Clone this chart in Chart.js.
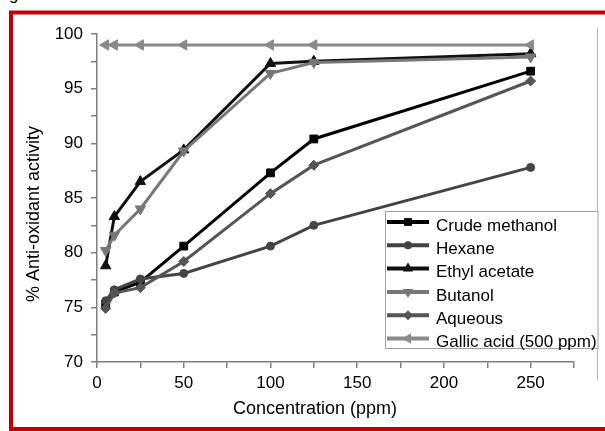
<!DOCTYPE html>
<html>
<head>
<meta charset="utf-8">
<script src="https://cdn.jsdelivr.net/npm/chart.js@4.4.0/dist/chart.umd.min.js"></script>
<style>
  html, body { margin: 0; padding: 0; background: #fff; }
  #myChart { display: block; }
</style>
</head>
<body>
<canvas id="myChart" width="605" height="431"></canvas>
<script>
// values (x = concentration in ppm)
const concentration = [5, 10, 25, 50, 100, 125, 250];
const crudeMethanol = [75.3, 76.4, 77.3, 80.6, 87.3, 90.4, 96.6];
const hexane        = [75.6, 76.6, 77.6, 78.1, 80.6, 82.5, 87.8];
const ethylAcetate  = [78.8, 83.3, 86.5, 89.4, 97.3, 97.5, 98.2];
const butanol       = [80.2, 81.6, 84.0, 89.3, 96.4, 97.4, 97.9];
const aqueous       = [74.9, 76.3, 76.8, 79.2, 85.4, 88.0, 95.7];
const gallicAcid    = [99, 99, 99, 99, 99, 99, 99];

const seriesNames = ['Crude methanol', 'Hexane', 'Ethyl acetate', 'Butanol', 'Aqueous', 'Gallic acid (500 ppm)'];
const seriesValues = [crudeMethanol, hexane, ethylAcetate, butanol, aqueous, gallicAcid];
const xLabelTicks = [0, 50, 100, 150, 200, 250];
const yLabelTicks = [70, 75, 80, 85, 90, 95, 100];
const xTitle = 'Concentration (ppm)';
const yTitle = '% Anti-oxidant activity';

// look of each series
const seriesStyles = [
    { color: '#000000', point: 'rect',     rot: 0,   r: 5.5 },
    { color: '#444444', point: 'circle',   rot: 0,   r: 4 },
    { color: '#111111', point: 'triangle', rot: 0,   r: 6 },
    { color: '#777777', point: 'triangle', rot: 180, r: 6 },
    { color: '#555555', point: 'rectRot',  rot: 0,   r: 5 },
    { color: '#8a8a8a', point: 'triangle', rot: -90, r: 6 }
];

const FONT = "'Liberation Sans', Arial, sans-serif";
const AXIS_GREY = '#7f7f7f';

// draw one marker shape (used for the legend)
function drawMarker(ctx, st, x, y) {
    ctx.save();
    ctx.translate(x, y);
    ctx.rotate(st.rot * Math.PI / 180);
    ctx.fillStyle = st.color;
    ctx.beginPath();
    const r = st.r;
    if (st.point === 'rect') {
        const s = r * Math.SQRT1_2;
        ctx.rect(-s, -s, 2 * s, 2 * s);
    } else if (st.point === 'circle') {
        ctx.arc(0, 0, r, 0, Math.PI * 2);
    } else if (st.point === 'triangle') {
        ctx.moveTo(0, -r);
        ctx.lineTo(r * 0.866, r * 0.5);
        ctx.lineTo(-r * 0.866, r * 0.5);
        ctx.closePath();
    } else {
        ctx.moveTo(0, -r);
        ctx.lineTo(r, 0);
        ctx.lineTo(0, r);
        ctx.lineTo(-r, 0);
        ctx.closePath();
    }
    ctx.fill();
    ctx.restore();
}

// frame, titles and the legend box sitting inside the plot
const decorPlugin = {
    id: 'decor',
    afterDraw(chart) {
        const ctx = chart.ctx;
        ctx.save();

        // cut-off glyph above the frame
        ctx.fillStyle = '#000';
        ctx.font = '17px ' + FONT;
        ctx.textBaseline = 'alphabetic';
        ctx.textAlign = 'left';
        ctx.fillText('g', 9, 0);

        // red frame
        ctx.strokeStyle = '#c00000';
        ctx.lineWidth = 4;
        ctx.strokeRect(11, 12.5, 700, 416.5);

        // plot area right edge
        ctx.strokeStyle = '#b4b4b4';
        ctx.lineWidth = 1;
        ctx.beginPath();
        ctx.moveTo(597.5, 28);
        ctx.lineTo(597.5, 380);
        ctx.stroke();

        // axis titles
        ctx.fillStyle = '#000';
        ctx.font = '18px ' + FONT;
        ctx.textAlign = 'center';
        ctx.textBaseline = 'middle';
        ctx.fillText(xTitle, 315, 409);
        ctx.save();
        ctx.translate(34, 214);
        ctx.rotate(-Math.PI / 2);
        ctx.fillText(yTitle, 0, 0);
        ctx.restore();

        // legend
        ctx.fillStyle = '#fff';
        ctx.fillRect(385.5, 211.5, 212.5, 137);
        ctx.strokeStyle = '#a0a0a0';
        ctx.lineWidth = 1;
        ctx.strokeRect(385.5, 211.5, 212.5, 137);
        ctx.font = '17px ' + FONT;
        ctx.textAlign = 'left';
        ctx.textBaseline = 'middle';
        chart.data.datasets.forEach((ds, i) => {
            const st = seriesStyles[i];
            const y = 222 + i * 23.3;
            ctx.strokeStyle = st.color;
            ctx.lineWidth = 4;
            ctx.beginPath();
            ctx.moveTo(387, y);
            ctx.lineTo(429, y);
            ctx.stroke();
            drawMarker(ctx, st, 408, y);
            ctx.fillStyle = '#000';
            ctx.fillText(ds.label, 436, y + 4);
        });

        ctx.restore();
    }
};

const datasets = seriesNames.map((name, i) => ({
    label: name,
    data: concentration.map((x, j) => ({ x: x, y: seriesValues[i][j] })),
    borderColor: seriesStyles[i].color,
    backgroundColor: seriesStyles[i].color,
    borderWidth: 3,
    pointStyle: seriesStyles[i].point,
    pointRotation: seriesStyles[i].rot,
    pointRadius: seriesStyles[i].r,
    pointBorderWidth: 1,
    tension: 0,
    order: seriesNames.length - i   // later series on top, like the original
}));

const ctx = document.getElementById('myChart');
let myChart = new Chart(ctx, {
    type: 'line',
    data: { datasets: datasets },
    options: {
        responsive: false,
        animation: false,
        devicePixelRatio: 1,
        layout: { padding: { left: 0, right: 31, top: 34, bottom: 0 } },
        plugins: {
            legend: { display: false },
            tooltip: { enabled: false }
        },
        scales: {
            x: {
                type: 'linear',
                min: 0,
                max: 275,
                afterFit: s => { s.height = 69; },
                ticks: {
                    stepSize: 25,
                    autoSkip: false,
                    maxRotation: 0,
                    padding: 5,
                    color: '#000',
                    font: { family: FONT, size: 17 },
                    callback: v => xLabelTicks.includes(v) ? String(v) : ''
                },
                grid: { drawOnChartArea: false, drawTicks: true, tickLength: 6, color: AXIS_GREY, lineWidth: 1.5 },
                border: { color: AXIS_GREY, width: 1.5 }
            },
            y: {
                min: 70,
                max: 100,
                afterFit: s => { s.width = 97; },
                ticks: {
                    stepSize: 2.5,
                    autoSkip: false,
                    padding: 8,
                    color: '#000',
                    font: { family: FONT, size: 17 },
                    callback: v => yLabelTicks.includes(v) ? String(v) : ''
                },
                grid: { drawOnChartArea: false, drawTicks: true, tickLength: 6, color: AXIS_GREY, lineWidth: 1.5 },
                border: { color: AXIS_GREY, width: 1.5 }
            }
        }
    },
    plugins: [decorPlugin]
});
</script>
</body>
</html>
